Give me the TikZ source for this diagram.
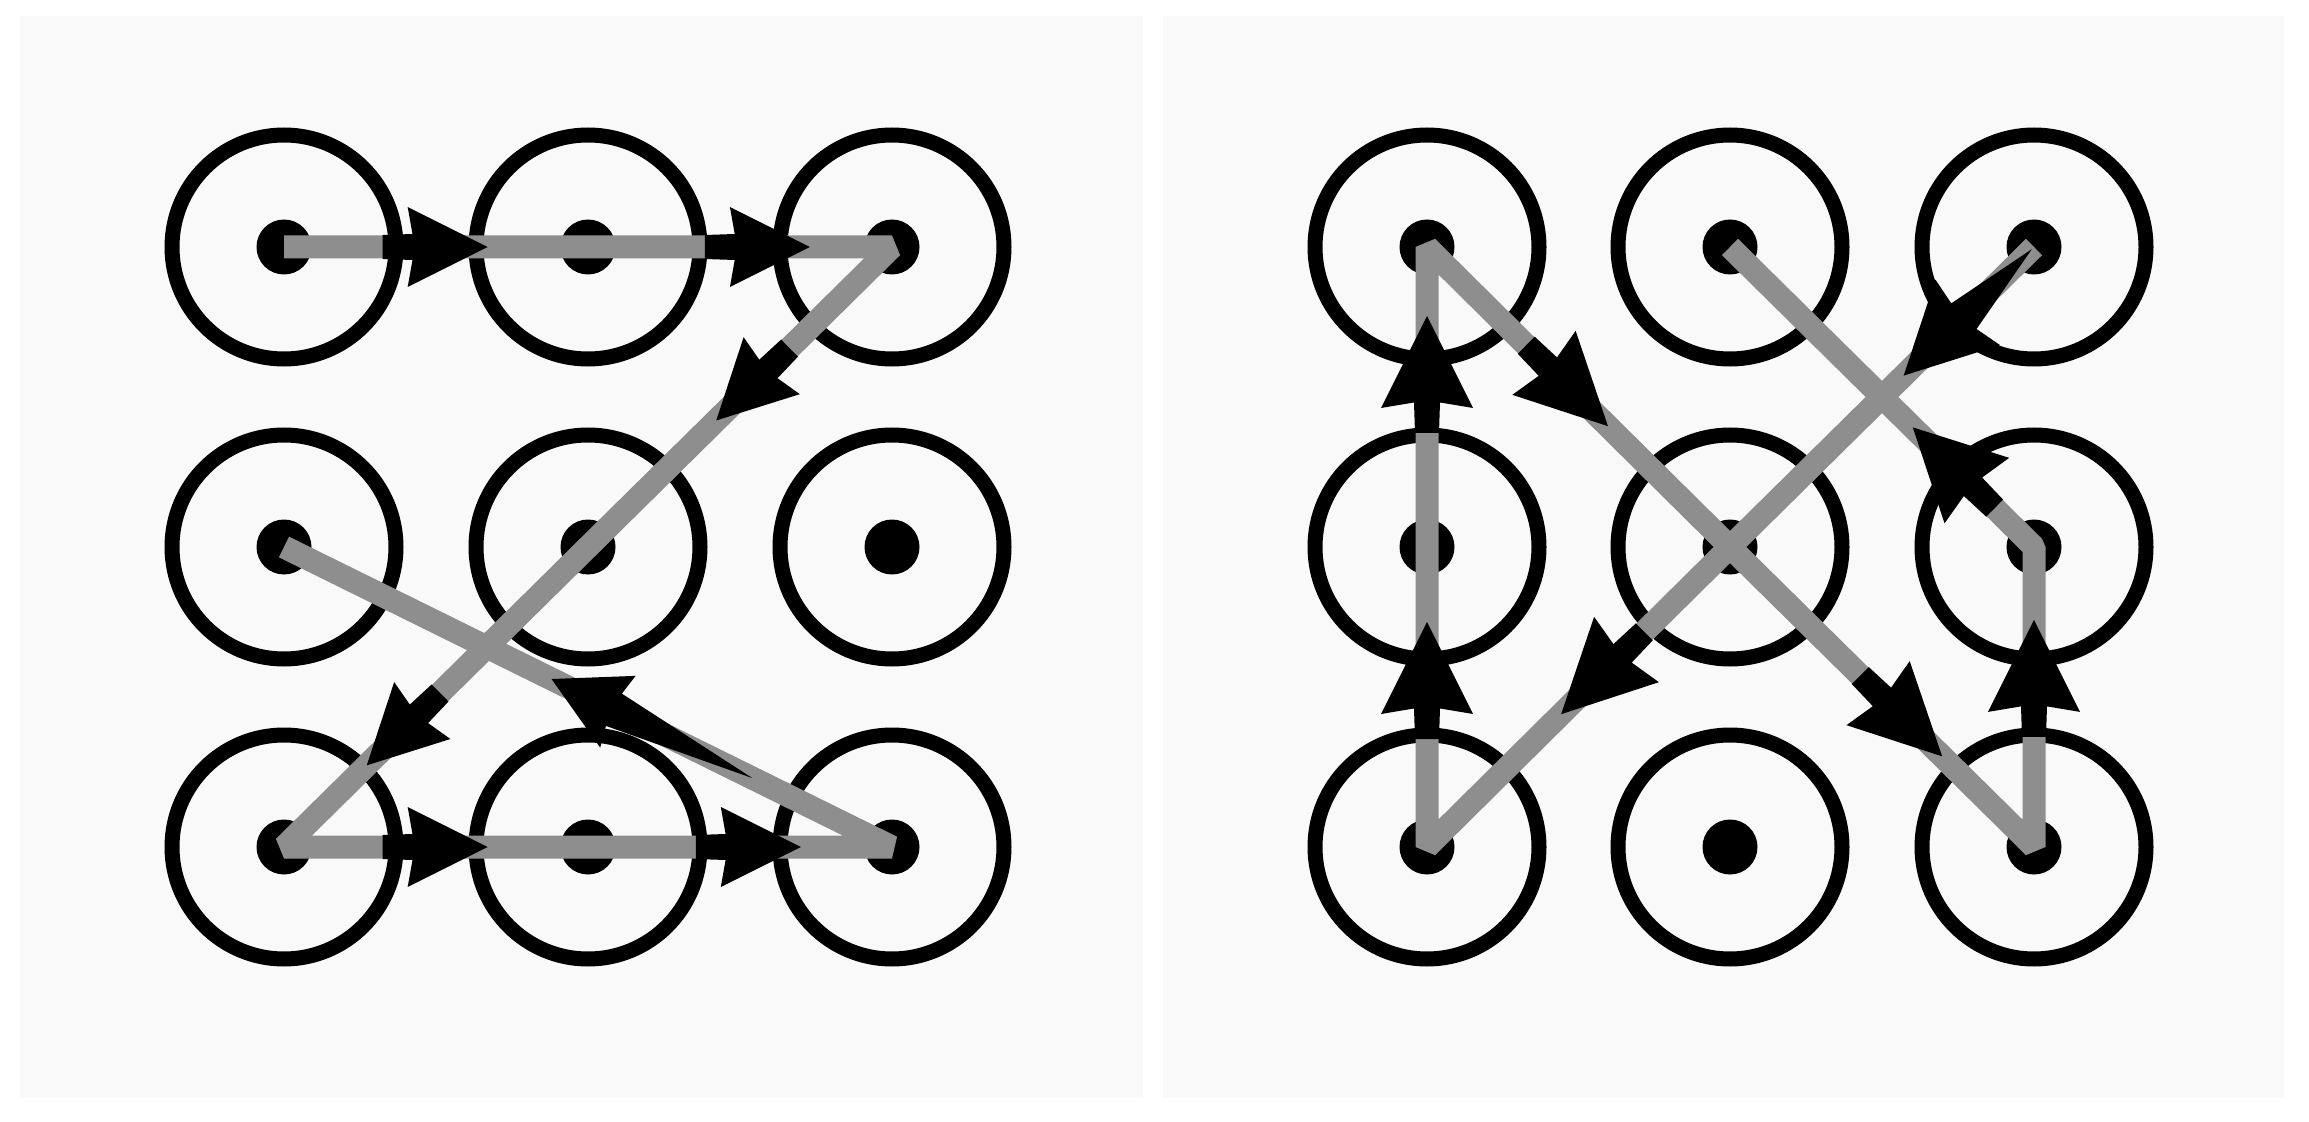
\documentclass[tikz,border=0pt]{standalone}
\usetikzlibrary{decorations.markings}
\definecolor{panelbg}{RGB}{249,249,249}
\definecolor{pathgray}{RGB}{142,142,142}
\newcommand{\aheadshort}[3]{\fill[black] (0,0) -- (-#2,#3) -- (-0.94*#2,13) -- (-#2-#1,12) -- (-#2-#1,-12) -- (-0.94*#2,-13) -- (-#2,-#3) -- cycle;}
\newcommand{\aheadlong}[3]{\fill[black] (0,0) -- (-#2,#3) -- (-0.94*#2,18) -- (-#2-#1,0) -- (-0.94*#2,-18) -- (-#2,-#3) -- cycle;}
\tikzset{
  ring/.style={draw=black, line width=1.5mm},
  pathline/.style={draw=pathgray, line width=2.3mm, line join=bevel},
  arrowmark/.style n args={4}{postaction={decorate}, decoration={markings, mark=at position #1 with {\aheadshort{#4}{#2}{#3}}}},
  tailmark/.style n args={4}{postaction={decorate}, decoration={markings, mark=at position #1 with {\aheadlong{#4}{#2}{#3}}}},
}
\begin{document}
\begin{tikzpicture}[x=0.1mm, y=-0.1mm]
\path[use as bounding box] (0,0) rectangle (2309,1122);
\fill[white] (0,0) rectangle (2309,1122);
\fill[panelbg] (20,16) rectangle (1143,1098);
\fill[panelbg] (1163,16) rectangle (2284,1098);
% grid points
\foreach \r/\y in {1/247,2/547,3/847}{
  \foreach \c/\xl/\xr in {1/284/1427,2/588/1730,3/892/2034}{
    \coordinate (L\r\c) at (\xl,\y);
    \coordinate (R\r\c) at (\xr,\y);
  }
}
\foreach \r in {1,2,3}{
  \foreach \c in {1,2,3}{
    \draw[ring] (L\r\c) circle[radius=11.2mm];
    \fill[black] (L\r\c) circle[radius=2.75mm];
    \draw[ring] (R\r\c) circle[radius=11.2mm];
    \fill[black] (R\r\c) circle[radius=2.75mm];
  }
}
% left pattern
\draw[pathline] (L11) -- (L12) -- (L13) -- (L22) -- (L31) -- (L32) -- (L33) -- (L21);
\path[arrowmark={0.67}{80}{40}{25}] (L11) -- (L12);
\path[arrowmark={0.73}{80}{40}{25}] (L12) -- (L13);
\path[arrowmark={0.58}{78}{40}{25}] (L13) -- (L22);
\path[arrowmark={0.73}{78}{40}{25}] (L22) -- (L31);
\path[arrowmark={0.67}{80}{40}{25}] (L31) -- (L32);
\path[arrowmark={0.70}{80}{40}{25}] (L32) -- (L33);
\path[tailmark={0.56}{74}{40}{150}] (L33) -- (L21);
% right pattern
\draw[pathline] (R13) -- (R22) -- (R31) -- (R21) -- (R11) -- (R22) -- (R33) -- (R23) -- (R12);
\path[arrowmark={0.75}{92}{46}{25}] (R31) -- (R21);
\path[arrowmark={0.77}{92}{46}{25}] (R21) -- (R11);
\path[arrowmark={0.60}{90}{45}{25}] (R11) -- (R22);
\path[arrowmark={0.70}{90}{45}{25}] (R22) -- (R33);
\path[arrowmark={0.757}{92}{46}{25}] (R33) -- (R23);
\path[arrowmark={0.40}{90}{46}{25}] (R23) -- (R12);
\path[tailmark={0.43}{90}{46}{90}] (R13) -- (R22);
\path[arrowmark={0.56}{92}{46}{25}] (R22) -- (R31);
\end{tikzpicture}
\end{document}
